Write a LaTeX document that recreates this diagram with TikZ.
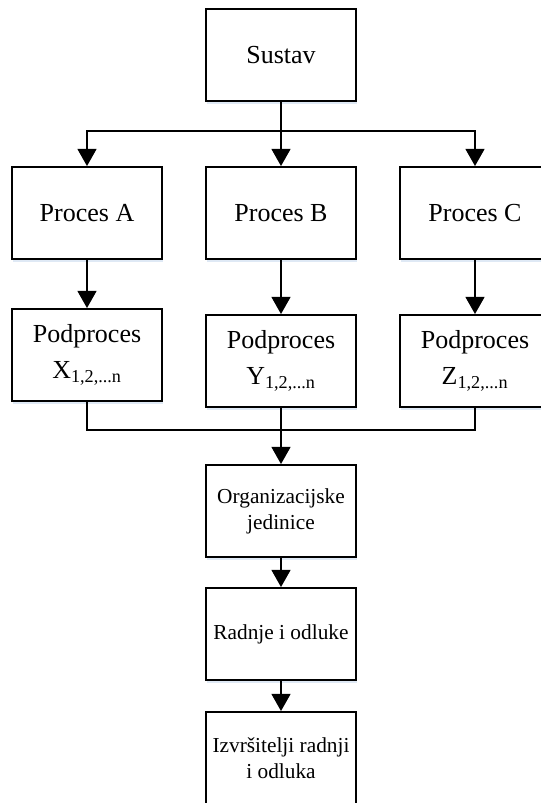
\documentclass[tikz,border=0pt]{standalone}
\usepackage{fontspec}
\setmainfont{Liberation Serif}
\usetikzlibrary{arrows.meta, positioning, shadows}
\definecolor{cline}{HTML}{000000}
\definecolor{cshade}{HTML}{C9DAEE}
\tikzset{
  every picture/.style={line width=1.3pt},
  box/.style={draw=cline, fill=white, align=center, inner sep=2pt,
    minimum width=112.5pt, minimum height=69pt,
    drop shadow={shadow xshift=1pt, shadow yshift=-2pt, fill=cshade, opacity=0.6},
    font=\fontsize{19.5}{27}\selectfont},
  small/.style={font=\fontsize{16}{19.5}\selectfont},
  arrow/.style={-{Triangle[length=13pt, width=14pt]}, draw=cline, line width=2.2pt},
  bus/.style={draw=cline, line width=1.1pt},
}

\begin{document}
\begin{tikzpicture}[x=0.75pt, y=-0.75pt]
  \useasboundingbox (0,0) rectangle (541,803);
  % top level
  \node[box] (sustav) at (281,55) {Sustav};
  \node[box] (procA) at (87,213) {Proces A};
  \node[box] (procB) at (281,213) {Proces B};
  \node[box] (procC) at (475,213) {Proces C};
  % subprocesses
  \node[box] (podX) at (87,355) {Podproces\\X\textsubscript{1,2,...n}};
  \node[box] (podY) at (281,361) {Podproces\\Y\textsubscript{1,2,...n}};
  \node[box] (podZ) at (475,361) {Podproces\\Z\textsubscript{1,2,...n}};
  % lower chain
  \node[box, small] (org) at (281,511) {Organizacijske\\jedinice};
  \node[box, small] (radnje) at (281,634) {Radnje i odluke};
  \node[box, small] (izv) at (281,758) {Izvršitelji radnji\\i odluka};
  \coordinate (bus1) at (281,131);
  \coordinate (bus2) at (281,430);
  % connectors
  \draw[arrow] (sustav) -- (procB);
  \draw[arrow] (bus1) -| (procA);
  \draw[arrow] (bus1) -| (procC);
  \draw[arrow] (procA) -- (podX);
  \draw[arrow] (procB) -- (podY);
  \draw[arrow] (procC) -- (podZ);
  \draw[bus] (podX) |- (bus2) -| (podZ);
  \draw[arrow] (podY) -- (org);
  \draw[arrow] (org) -- (radnje);
  \draw[arrow] (radnje) -- (izv);
\end{tikzpicture}
\end{document}
